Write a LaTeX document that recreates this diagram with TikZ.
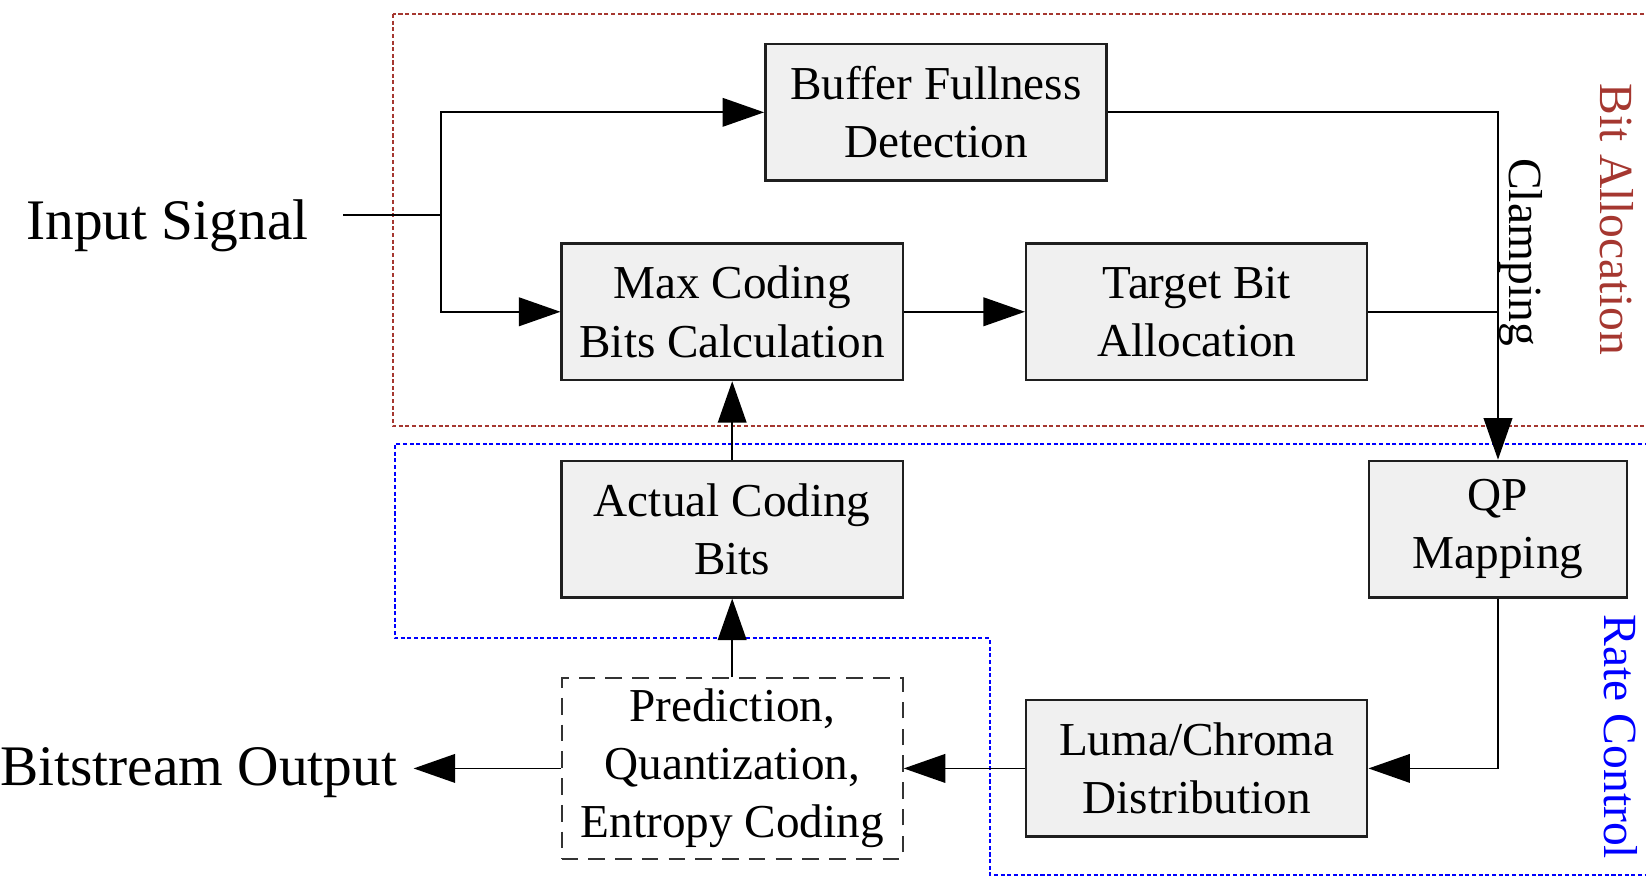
\documentclass[tikz,border=0pt]{standalone}
\usepackage{fontspec}
\setmainfont{Liberation Serif}
\usetikzlibrary{arrows.meta}
\definecolor{bared}{RGB}{165,55,48}
\definecolor{rcblue}{RGB}{0,0,255}
\definecolor{boxfill}{RGB}{240,240,240}
\begin{document}
\begin{tikzpicture}[x=0.02cm,y=-0.02cm,
  blk/.style={draw=black!88, line width=1.3pt, fill=boxfill, minimum width=6.5cm,
    minimum height=2.6cm, align=center, inner sep=0pt,
    font=\fontsize{25.6}{31.6}\selectfont},
  predbox/.style={blk, fill=white, draw=black!80, line width=1.1pt,
    dash pattern=on 9pt off 5.5pt, minimum height=3.44cm},
  biglab/.style={inner sep=0pt, font=\fontsize{31.1}{37}\selectfont},
  sidelab/.style={inner sep=0pt, rotate=-90, font=\fontsize{25.8}{31}\selectfont},
  conn/.style={line width=1.0pt, draw=black},
  arr/.style={conn, -{Triangle[length=22.5pt,width=15.5pt]}},
  dotline/.style={line width=1.2pt, dash pattern=on 2.2pt off 1.4pt}]
\useasboundingbox (0,0) rectangle (1568,836);
\begin{scope}
  \clip (0,0) rectangle (1568,836);
  \draw[bared, dotline] (374,13.3) rectangle (1640,406);
  \draw[rcblue, dotline] (1640,423) -- (376,423) -- (376,608) -- (943,608)
    -- (943,833.5) -- (1640,833.5);
\end{scope}
% blocks
\node[blk] (buf) at (891.5,107) {Buffer Fullness\\Detection};
\node[blk] (max) at (697.5,297) {Max Coding\\Bits Calculation};
\node[blk] (tgt) at (1140,297) {Target Bit\\Allocation};
\node[blk, minimum width=4.92cm] (qp) at (1427,504) {QP\\Mapping};
\node[blk] (act) at (697.5,504) {Actual Coding\\Bits};
\node[blk] (luma) at (1140,732) {Luma/Chroma\\Distribution};
\node[predbox] (pred) at (697.5,732) {Prediction,\\Quantization,\\Entropy Coding};
% labels
\node[biglab, anchor=base] (inp) at (159.5,228.6) {Input Signal};
\node[biglab, anchor=base west] (outp) at (0,748) {Bitstream Output};
\node[sidelab] (clab) at (1449,240) {Clamping};
\node[sidelab, text=bared] (balab) at (1540,209) {Bit Allocation};
\node[sidelab, text=rcblue] (rclab) at (1544,702) {Rate Control};
% connectors
\coordinate (inS) at (327,204.8);
\coordinate (br) at (419.8,204.8);
\coordinate (outS) at (394,732);
\draw[conn] (inS) -- (br);
\draw[arr] (br) |- (buf.west);
\draw[arr] (br) |- (max.west);
\draw[arr] (max) -- (tgt);
\draw[arr] (buf.east) -| (qp.north);
\draw[conn] (tgt.east) -- (tgt.east -| qp.north);
\draw[arr] (act) -- (max);
\draw[arr] (pred) -- (act);
\draw[arr] (qp.south) |- (luma.east);
\draw[arr] (luma) -- (pred);
\draw[arr] (pred) -- (outS);
\end{tikzpicture}
\end{document}
